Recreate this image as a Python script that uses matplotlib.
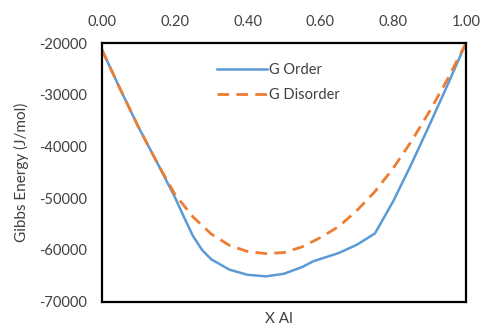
import matplotlib
matplotlib.use("Agg")
import matplotlib.pyplot as plt

x_al = [0.0, 0.05, 0.10, 0.15, 0.20, 0.225, 0.25, 0.275, 0.30, 0.35, 0.40, 0.45, 0.50, 0.55,
        0.58, 0.65, 0.70, 0.75, 0.80, 0.85, 0.90, 0.95, 1.0]
g_order = [-21300, -28900, -36200, -42900, -49750, -53600, -57300, -60000, -61800, -63800, -64800,
           -65100, -64600, -63300, -62200, -60600, -59000, -56800, -50600, -43400,
           -35800, -28000, -20000]

x_dis = [0.0, 0.05, 0.10, 0.15, 0.20, 0.25, 0.30, 0.35, 0.40, 0.45, 0.50, 0.55,
         0.60, 0.65, 0.70, 0.75, 0.80, 0.85, 0.90, 0.95, 1.0]
g_disorder = [-21300, -28900, -36200, -42900, -49200, -53600, -56900, -59100, -60300,
              -60700, -60500, -59400, -57600, -55500, -52400, -48700, -44200, -39000,
              -33200, -26900, -20000]

x_ticks = [0.0, 0.2, 0.4, 0.6, 0.8, 1.0]
y_ticks = [-70000, -60000, -50000, -40000, -30000, -20000]

plt.rcParams['font.family'] = ['Lato', 'DejaVu Sans']
text_color = '#404040'

fig = plt.figure(figsize=(4.87, 3.29), dpi=100)
ax = fig.add_axes([0.2094, 0.083, 0.7474, 0.786])

ax.plot(x_al, g_order, color='#5B9BD5', lw=1.8, label='G Order')
ax.plot(x_dis, g_disorder, color='#ED7D31', lw=2.0, dashes=(4.2, 2.6), label='G Disorder')

ax.set_xlim(0, 1)
ax.set_ylim(-70000, -20000)
ax.xaxis.tick_top()
ax.set_xticks(x_ticks)
ax.set_xticklabels([f"{v:.2f}" for v in x_ticks])
ax.set_yticks(y_ticks)
ax.set_yticklabels([str(v) for v in y_ticks])
ax.tick_params(axis='both', length=0, labelsize=10.5, colors=text_color)
ax.tick_params(axis='x', pad=10)
ax.tick_params(axis='y', pad=11)
for s in ax.spines.values():
    s.set_color('black')
    s.set_linewidth(1.6)

ax.set_ylabel('Gibbs Energy (J/mol)', fontsize=11, color=text_color, labelpad=7)
fig.text(0.573, 0.03, 'X Al', fontsize=11, color=text_color, ha='center', va='center')

leg = ax.legend(loc='upper left', bbox_to_anchor=(0.28, 0.975), frameon=False,
                fontsize=10.5, handlelength=3.4, handletextpad=0.15, labelspacing=0.8,
                labelcolor=text_color)

fig.savefig('out.png', dpi=100)
